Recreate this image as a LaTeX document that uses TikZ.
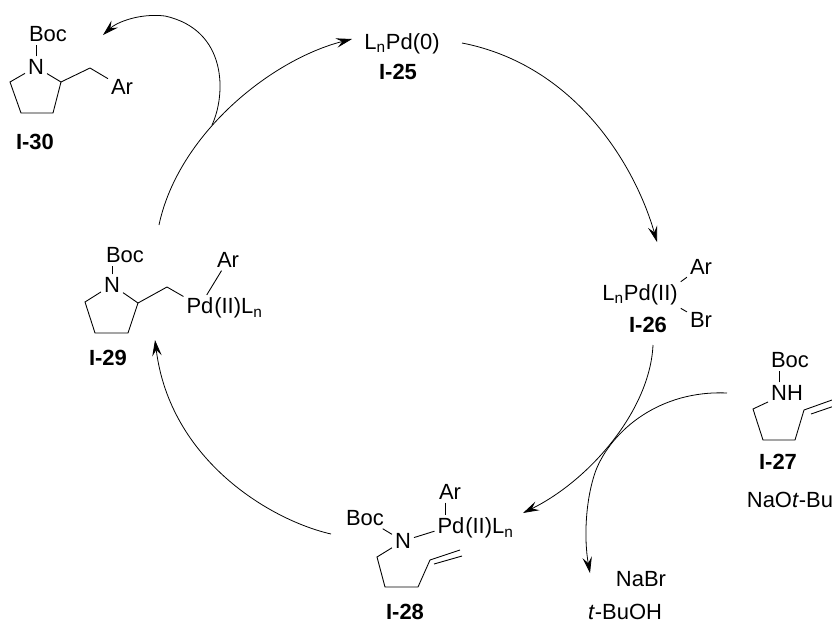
\documentclass[tikz,border=0pt]{standalone}
\usepackage{fontspec}
\setmainfont{Liberation Sans}
\usetikzlibrary{arrows.meta}

\begin{document}
\begin{tikzpicture}[x=0.02cm,y=-0.02cm,line width=0.5pt]
\tikzstyle{every node}=[font=\fontsize{12.5}{15}\selectfont,inner sep=1.5pt]
\tikzstyle{lab}=[font=\fontsize{12.5}{15}\selectfont\bfseries]
\tikzstyle{tail}=[anchor=base west,inner sep=0pt]
\tikzstyle{cyc}=[-{Stealth[length=3.2mm,width=1.9mm,inset=1.2mm]},line width=0.45pt]
\useasboundingbox (0,0) rectangle (832,623);

\node (boc30) at (48,34) {Boc};
\node (n30) at (36,67) {N};
\node (ar30) at (122,87) {Ar};
\node[lab] (l30) at (35,142) {I-30};
\coordinate (a30) at (10,82);
\coordinate (b30) at (21,113);
\coordinate (c30) at (53,113);
\coordinate (d30) at (61,82);
\coordinate (e30) at (90,68);
\draw (n30.north) -- (n30.north |- boc30.south);
\draw (n30) -- (a30) -- (b30) -- (c30) -- (d30) -- (n30);
\draw (d30) -- (e30) -- (ar30);

\node (pd25) at (402,44) {L\textsubscript{n}Pd(0)};
\node[lab] (l25) at (398,72) {I-25};

\node (pd26) at (640,295) {L\textsubscript{n}Pd(II)};
\node (ar26) at (701,267) {Ar};
\node (br26) at (701,320) {Br};
\node[lab] (l26) at (648,325) {I-26};
\draw (pd26.north east) -- (ar26);
\draw (pd26.south east) -- (br26);

\node (boc27) at (790,360) {Boc};
\node (nh27) at (787,393) {NH};
\node[lab] (l27) at (778,462) {I-27};
\node (base27) at (790,500) {NaO\textit{t}-Bu};
\coordinate (a27) at (753,409);
\coordinate (b27) at (763,440);
\coordinate (c27) at (795,440);
\coordinate (d27) at (804,410);
\draw ([xshift=-4.5pt]nh27.north) -- ([xshift=-4.5pt]nh27.north |- boc27.south);
\draw (nh27) -- (a27) -- (b27) -- (c27) -- (d27) -- (846,395);
\draw (811,414) -- (846,402);

\node (boc28) at (365,518) {Boc};
\node (n28) at (403,541) {N};
\node (pd28) at (451,526) {Pd};
\node[tail] at ([xshift=-1.5pt]pd28.base east) {(II)L\textsubscript{n}};
\node (ar28) at (450,492) {Ar};
\node[lab] (l28) at (405,612) {I-28};
\coordinate (a28) at (377,557);
\coordinate (b28) at (385,587);
\coordinate (c28) at (418,587);
\coordinate (d28) at (430,560);
\coordinate (e28) at (460,550);
\draw (boc28) -- (n28);
\draw (n28) -- (pd28);
\draw ([xshift=-2.5pt]ar28.south) -- ([xshift=-2.5pt]ar28.south |- pd28.north);
\draw (n28) -- (a28) -- (b28) -- (c28) -- (d28) -- (e28);
\draw (434,564) -- (462,556);

\node (nabr) at (641,579) {NaBr};
\node (tbuoh) at (625,612) {\textit{t}-BuOH};

\node (boc29) at (125,255) {Boc};
\node (n29) at (112,285) {N};
\node (pd29) at (200,306) {Pd};
\node[tail] at ([xshift=-1.5pt]pd29.base east) {(II)L\textsubscript{n}};
\node (ar29) at (228,260) {Ar};
\node[lab] (l29) at (108,358) {I-29};
\coordinate (a29) at (85,302);
\coordinate (b29) at (95,333);
\coordinate (c29) at (128,333);
\coordinate (d29) at (138,303);
\coordinate (e29) at (167,287);
\draw (n29.north) -- (n29.north |- boc29.south);
\draw (n29) -- (a29) -- (b29) -- (c29) -- (d29) -- (n29);
\draw (d29) -- (e29) -- (pd29);
\draw (ar29) -- (pd29);

\coordinate (s1) at (159,225);
\coordinate (t1) at (352,39);
\coordinate (m1) at (212,125);
\coordinate (t30) at (103,35);
\coordinate (s2) at (462,43);
\coordinate (t2) at (657,242);
\coordinate (s3) at (653,345);
\coordinate (t3) at (523,513);
\coordinate (s4) at (331,534);
\coordinate (t4) at (155,340);
\coordinate (s27) at (727,393);
\coordinate (t27) at (590,573);

\draw[cyc] (s1) .. controls (178,135) and (270,60) .. (t1);
\draw[cyc] (m1) .. controls (226,95) and (228,30) .. (165,16) .. controls (140,13) and (117,22) .. (t30);
\draw[cyc] (s2) .. controls (575,65) and (635,165) .. (t2);
\draw[cyc] (s3) .. controls (650,410) and (590,480) .. (t3);
\draw[cyc] (s4) .. controls (270,520) and (170,460) .. (t4);
\draw[cyc] (s27) .. controls (660,390) and (612,430) .. (596,470) .. controls (585,500) and (584,540) .. (t27);

\end{tikzpicture}
\end{document}
